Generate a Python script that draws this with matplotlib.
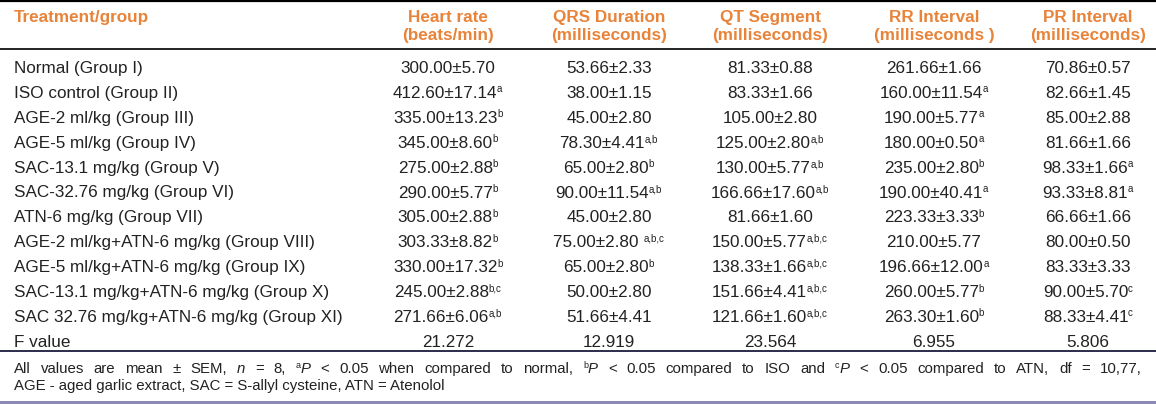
import matplotlib
matplotlib.use("Agg")
import matplotlib.pyplot as plt

plt.rcParams['font.family'] = ['Liberation Sans', 'DejaVu Sans']

# Table content
groups = ["Normal (Group I)", "ISO control (Group II)", "AGE-2 ml/kg (Group III)",
          "AGE-5 ml/kg (Group IV)", "SAC-13.1 mg/kg (Group V)", "SAC-32.76 mg/kg (Group VI)",
          "ATN-6 mg/kg (Group VII)", "AGE-2 ml/kg+ATN-6 mg/kg (Group VIII)",
          "AGE-5 ml/kg+ATN-6 mg/kg (Group IX)", "SAC-13.1 mg/kg+ATN-6 mg/kg (Group X)",
          "SAC 32.76 mg/kg+ATN-6 mg/kg (Group XI)"]
headers = [("Heart rate", "(beats/min)"), ("QRS Duration", "(milliseconds)"),
           ("QT Segment", "(milliseconds)"), ("RR Interval", "(milliseconds )"),
           ("PR Interval", "(milliseconds)")]

heart_rate = ["300.00±5.70", "412.60±17.14", "335.00±13.23", "345.00±8.60", "275.00±2.88",
              "290.00±5.77", "305.00±2.88", "303.33±8.82", "330.00±17.32", "245.00±2.88",
              "271.66±6.06"]
heart_sup = ["", "a", "b", "b", "b", "b", "b", "b", "b", "b,c", "a,b"]
qrs = ["53.66±2.33", "38.00±1.15", "45.00±2.80", "78.30±4.41", "65.00±2.80", "90.00±11.54",
       "45.00±2.80", "75.00±2.80 ", "65.00±2.80", "50.00±2.80", "51.66±4.41"]
qrs_sup = ["", "", "", "a,b", "b", "a,b", "", "a,b,c", "b", "", ""]
qt = ["81.33±0.88", "83.33±1.66", "105.00±2.80", "125.00±2.80", "130.00±5.77", "166.66±17.60",
      "81.66±1.60", "150.00±5.77", "138.33±1.66", "151.66±4.41", "121.66±1.60"]
qt_sup = ["", "", "", "a,b", "a,b", "a,b", "", "a,b,c", "a,b,c", "a,b,c", "a,b,c"]
rr = ["261.66±1.66", "160.00±11.54", "190.00±5.77", "180.00±0.50", "235.00±2.80", "190.00±40.41",
      "223.33±3.33", "210.00±5.77", "196.66±12.00", "260.00±5.77", "263.30±1.60"]
rr_sup = ["", "a", "a", "a", "b", "a", "b", "", "a", "b", "b"]
pr = ["70.86±0.57", "82.66±1.45", "85.00±2.88", "81.66±1.66", "98.33±1.66", "93.33±8.81",
      "66.66±1.66", "80.00±0.50", "83.33±3.33", "90.00±5.70", "88.33±4.41"]
pr_sup = ["", "", "", "", "a", "a", "", "", "", "c", "c"]
f_values = ["21.272", "12.919", "23.564", "6.955", "5.806"]

columns = [(heart_rate, heart_sup), (qrs, qrs_sup), (qt, qt_sup), (rr, rr_sup), (pr, pr_sup)]

# footnote words: list of (text, style) pieces per word
note_words = ["All", "values", "are", "mean", "±", "SEM,", [("n", "i")], "=", "8,",
              [("a", "s"), ("P", "i")], "<", "0.05", "when", "compared", "to", "normal,",
              [("b", "s"), ("P", "i")], "<", "0.05", "compared", "to", "ISO", "and",
              [("c", "s"), ("P", "i")], "<", "0.05", "compared", "to", "ATN,", "df", "=", "10,77,"]
note_line2 = "AGE - aged garlic extract, SAC = S-allyl cysteine, ATN = Atenolol"

# layout
W, H = 1156, 404
col_x = [448, 609, 770, 934, 1088]
left_x = 14
row0, row_step = 73, 24.9
FS, SUP_FS, NOTE_FS = 12.3, 7, 10.8
TXT = "#222222"
ORANGE = "#E8833A"

fig = plt.figure(figsize=(W / 100, H / 100), dpi=100)
ax = fig.add_axes([0, 0, 1, 1])
ax.set_xlim(0, W)
ax.set_ylim(H, 0)
ax.axis("off")
renderer = fig.canvas.get_renderer()


def width(t):
    return t.get_window_extent(renderer).width


def draw_cell(cx, yb, base, sup):
    t = ax.text(0, yb, base, fontsize=FS, color=TXT, va="baseline", ha="left")
    w = width(t)
    s = None
    ws = 0
    if sup:
        s = ax.text(0, yb - 5.5, sup, fontsize=SUP_FS, color=TXT, va="baseline", ha="left")
        ws = width(s)
    x0 = cx - (w + ws) / 2
    t.set_x(x0)
    if s is not None:
        s.set_x(x0 + w - 0.5)


# rules
ax.axhline(0.8, color="black", lw=1.6)
ax.axhline(49, color="#111111", lw=1.3)
ax.axhline(351, color="#1b1b3d", lw=1.3)
ax.axhspan(400.5, H, color="#8A8AB4", lw=0)

# header
ax.text(left_x, 22, "Treatment/group", fontsize=FS, fontweight="bold", color=ORANGE,
        va="baseline", ha="left")
for cx, (h1, h2) in zip(col_x, headers):
    ax.text(cx, 22, h1, fontsize=FS, fontweight="bold", color=ORANGE, va="baseline", ha="center")
    ax.text(cx, 40, h2, fontsize=FS, fontweight="bold", color=ORANGE, va="baseline", ha="center")

# body
for i, g in enumerate(groups):
    yb = row0 + i * row_step
    ax.text(left_x, yb, g, fontsize=FS, color=TXT, va="baseline", ha="left")
    for cx, (vals, sups) in zip(col_x, columns):
        draw_cell(cx, yb, vals[i], sups[i])

yb = row0 + len(groups) * row_step
ax.text(left_x, yb, "F value", fontsize=FS, color=TXT, va="baseline", ha="left")
for cx, f in zip(col_x, f_values):
    ax.text(cx, yb, f, fontsize=FS, color=TXT, va="baseline", ha="center")

# footnote, first line justified between left_x and right edge
note_right = 1142
note_y1, note_y2 = 373, 390
word_artists = []
for wd in note_words:
    pieces = [(wd, "n")] if isinstance(wd, str) else wd
    arts = []
    for txt, st in pieces:
        if st == "s":
            a = ax.text(0, note_y1 - 5, txt, fontsize=SUP_FS - 0.5, color=TXT, va="baseline")
        elif st == "i":
            a = ax.text(0, note_y1, txt, fontsize=NOTE_FS, style="italic", color=TXT, va="baseline")
        else:
            a = ax.text(0, note_y1, txt, fontsize=NOTE_FS, color=TXT, va="baseline")
        arts.append((a, width(a)))
    word_artists.append(arts)

total = sum(w for arts in word_artists for _, w in arts)
gap = (note_right - left_x - total) / (len(word_artists) - 1)
x = left_x
for arts in word_artists:
    for a, w in arts:
        a.set_x(x)
        x += w
    x += gap

ax.text(left_x, note_y2, note_line2, fontsize=NOTE_FS, color=TXT, va="baseline", ha="left")

fig.savefig("out.png", dpi=100)
